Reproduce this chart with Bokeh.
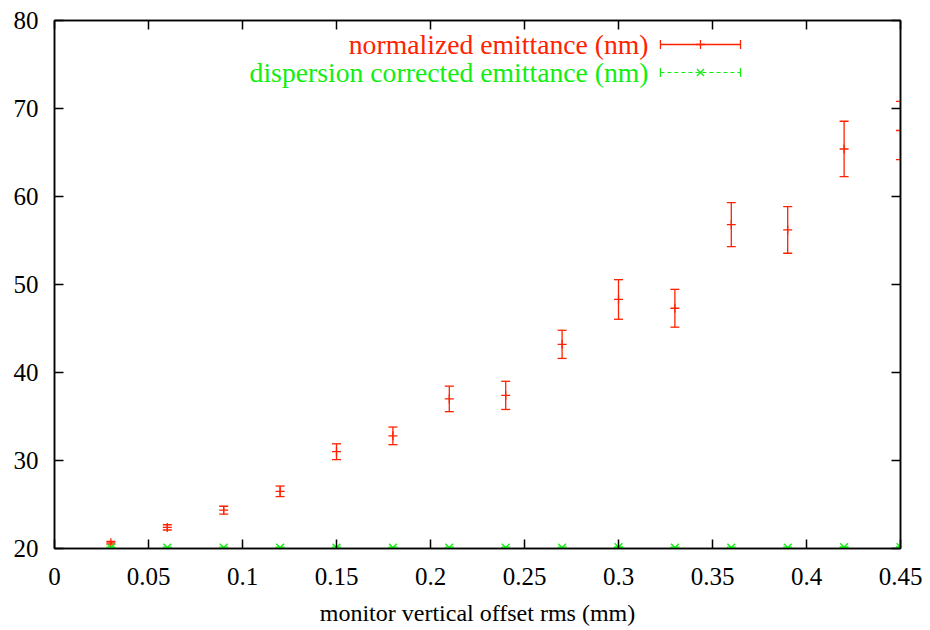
from bokeh.plotting import figure
from bokeh.models import (ColumnDataSource, Whisker, TeeHead, LinearAxis, FixedTicker,
                          Label, Range1d, CustomJSTickFormatter)
from bokeh.embed import file_html
from bokeh.resources import INLINE

# ---- data ----
offset_rms = [0.03, 0.06, 0.09, 0.12, 0.15, 0.18, 0.21, 0.24, 0.27, 0.30, 0.33, 0.36, 0.39, 0.42, 0.45]
norm_emit = [20.65, 22.4, 24.35, 26.5, 31.0, 32.8, 37.0, 37.4, 43.2, 48.3, 47.3, 56.8, 56.2, 65.4, 67.5]
norm_err = [0.15, 0.3, 0.45, 0.6, 0.9, 1.0, 1.45, 1.6, 1.6, 2.25, 2.15, 2.5, 2.65, 3.15, 3.3]
disp_emit = [20.1, 20.1, 20.1, 20.1, 20.1, 20.1, 20.1, 20.1, 20.1, 20.15, 20.1, 20.1, 20.1, 20.15, 20.15]
disp_err = [0.05, 0.05, 0.05, 0.05, 0.05, 0.05, 0.05, 0.05, 0.05, 0.05, 0.05, 0.05, 0.05, 0.05, 0.05]

x_ticks = [0, 0.05, 0.1, 0.15, 0.2, 0.25, 0.3, 0.35, 0.4, 0.45]
x_tick_labels = ["0", "0.05", "0.1", "0.15", "0.2", "0.25", "0.3", "0.35", "0.4", "0.45"]
y_ticks = [20, 30, 40, 50, 60, 70, 80]

series_names = ["normalized emittance (nm)", "dispersion corrected emittance (nm)"]
x_label = "monitor vertical offset rms (mm)"

RED = "#ff2200"
GREEN = "#11ee11"
FONT = "'Liberation Serif', 'Times New Roman', Times, serif"

p = figure(width=930, height=630, x_range=Range1d(0, 0.45), y_range=Range1d(20, 80),
           output_backend="svg", toolbar_location=None,
           min_border_left=54, min_border_right=30, min_border_top=20, min_border_bottom=82)
p.xgrid.visible = False
p.ygrid.visible = False
p.outline_line_color = "black"
p.outline_line_width = 1.5
p.background_fill_color = "white"
p.border_fill_color = "white"

for ax in (p.xaxis[0], p.yaxis[0]):
    ax.axis_line_color = "black"
    ax.axis_line_width = 1.5
    ax.major_tick_line_color = "black"
    ax.major_tick_line_width = 1.5
    ax.major_tick_in = 9
    ax.major_tick_out = 0
    ax.minor_tick_line_color = None
    ax.major_label_text_font = FONT
    ax.major_label_text_font_size = "25px"
    ax.major_label_text_color = "black"

p.xaxis[0].ticker = FixedTicker(ticks=x_ticks)
p.xaxis[0].major_label_overrides = {t: l for t, l in zip(x_ticks, x_tick_labels)}
p.xaxis[0].major_label_standoff = 19
p.xaxis[0].axis_label = x_label
p.xaxis[0].axis_label_text_font = FONT
p.xaxis[0].axis_label_text_font_size = "24px"
p.xaxis[0].axis_label_text_font_style = "normal"
p.xaxis[0].axis_label_text_color = "black"
p.xaxis[0].axis_label_standoff = 12
p.yaxis[0].ticker = FixedTicker(ticks=y_ticks)
p.yaxis[0].major_label_standoff = 16

# mirrored ticks on top and right (no labels)
blank = CustomJSTickFormatter(code="return ''")
top_ax = LinearAxis(ticker=FixedTicker(ticks=x_ticks), formatter=blank,
                    major_label_standoff=0, axis_line_color="black", axis_line_width=1.5,
                    major_tick_in=9, major_tick_out=0, major_tick_line_width=1.5,
                    minor_tick_line_color=None)
right_ax = LinearAxis(ticker=FixedTicker(ticks=y_ticks), formatter=blank,
                      major_label_standoff=0, axis_line_color="black", axis_line_width=1.5,
                      major_tick_in=9, major_tick_out=0, major_tick_line_width=1.5,
                      minor_tick_line_color=None)
p.add_layout(top_ax, "above")
p.add_layout(right_ax, "right")

src_n = ColumnDataSource(dict(x=offset_rms, y=norm_emit,
                              lo=[v - e for v, e in zip(norm_emit, norm_err)],
                              hi=[v + e for v, e in zip(norm_emit, norm_err)]))
src_d = ColumnDataSource(dict(x=offset_rms, y=disp_emit,
                              lo=[v - e for v, e in zip(disp_emit, disp_err)],
                              hi=[v + e for v, e in zip(disp_emit, disp_err)]))

w_n = Whisker(source=src_n, base="x", lower="lo", upper="hi", dimension="height",
              line_color=RED, line_width=1.3,
              upper_head=TeeHead(size=9, line_color=RED, line_width=1.3),
              lower_head=TeeHead(size=9, line_color=RED, line_width=1.3))
p.add_layout(w_n)
p.scatter("x", "y", source=src_n, marker="cross", size=9, line_color=RED, line_width=1.3)

w_d = Whisker(source=src_d, base="x", lower="lo", upper="hi", dimension="height",
              line_color=GREEN, line_width=1.2, line_dash="4 3",
              upper_head=TeeHead(size=9, line_color=GREEN, line_width=1.2),
              lower_head=TeeHead(size=9, line_color=GREEN, line_width=1.2))
p.add_layout(w_d)
p.scatter("x", "y", source=src_d, marker="x", size=11, line_color=GREEN, line_width=1.4)

# ---- legend (gnuplot style: text right-aligned, sample on the right) ----
leg_text_x = 0.316
leg_x0, leg_x1, leg_xm = 0.3223, 0.3649, 0.3436
leg_rows = [77.27, 74.09]
leg_colors = [RED, GREEN]
for name, yy, col in zip(series_names, leg_rows, leg_colors):
    p.add_layout(Label(x=leg_text_x, y=yy, text=name, text_align="right",
                       text_baseline="middle", text_font=FONT, text_font_size="27.7px",
                       text_color=col))
leg_src_n = ColumnDataSource(dict(y=[leg_rows[0]], lo=[leg_x0], hi=[leg_x1]))
leg_src_d = ColumnDataSource(dict(y=[leg_rows[1]], lo=[leg_x0], hi=[leg_x1]))
p.add_layout(Whisker(source=leg_src_n, base="y", lower="lo", upper="hi", dimension="width",
                     line_color=RED, line_width=1.3,
                     upper_head=TeeHead(size=9, line_color=RED, line_width=1.3),
                     lower_head=TeeHead(size=9, line_color=RED, line_width=1.3)))
p.add_layout(Whisker(source=leg_src_d, base="y", lower="lo", upper="hi", dimension="width",
                     line_color=GREEN, line_width=1.2, line_dash="4 3",
                     upper_head=TeeHead(size=9, line_color=GREEN, line_width=1.2),
                     lower_head=TeeHead(size=9, line_color=GREEN, line_width=1.2)))
p.scatter(x=[leg_xm], y=[leg_rows[0]], marker="cross", size=9, line_color=RED, line_width=1.3)
p.scatter(x=[leg_xm], y=[leg_rows[1]], marker="x", size=10, line_color=GREEN, line_width=1.3)

open("out.html", "w").write(file_html(p, INLINE))
